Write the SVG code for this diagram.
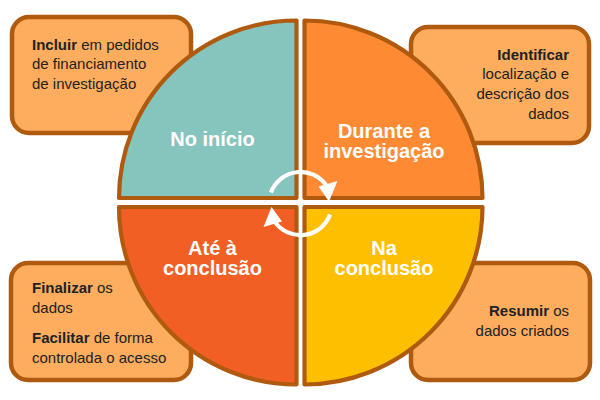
<svg xmlns="http://www.w3.org/2000/svg" width="600" height="400" viewBox="0 0 600 400">
<defs>
<style>
.box{fill:#FEAD5F;stroke:#B05A10;stroke-width:4.5}
.q{stroke:#B05A10;stroke-width:4.2;stroke-linejoin:round}
.t{font-family:"Liberation Sans",Arial,sans-serif;font-size:15px;fill:#222}
.b{font-weight:bold}
.lbl{font-family:"Liberation Sans",Arial,sans-serif;font-size:20px;font-weight:bold;fill:#fff;text-anchor:middle}
.arc{fill:none;stroke:#fff;stroke-width:4.2}
.head{fill:#fff}
</style>
</defs>
<rect width="600" height="400" fill="#fff"/>
<g id="box-tl">
<rect class="box" x="12" y="17" width="179" height="116" rx="17"/>
<text class="t" x="32" y="49.5"><tspan class="b">Incluir</tspan> em pedidos</text>
<text class="t" x="32" y="69">de financiamento</text>
<text class="t" x="32" y="88.5">de investigação</text>
</g>
<g id="box-tr">
<rect class="box" x="411" y="27" width="178" height="116" rx="17"/>
<text class="t b" x="569" y="59.5" text-anchor="end">Identificar</text>
<text class="t" x="569" y="79" text-anchor="end">localização e</text>
<text class="t" x="569" y="99" text-anchor="end">descrição dos</text>
<text class="t" x="569" y="118.5" text-anchor="end">dados</text>
</g>
<g id="box-bl">
<rect class="box" x="11" y="263" width="180" height="117" rx="17"/>
<text class="t" x="32" y="292.7"><tspan class="b">Finalizar</tspan> os</text>
<text class="t" x="32" y="312.7">dados</text>
<text class="t" x="32" y="342.7"><tspan class="b">Facilitar</tspan> de forma</text>
<text class="t" x="32" y="362.7">controlada o acesso</text>
</g>
<g id="box-br">
<rect class="box" x="411" y="263" width="179" height="117" rx="17"/>
<text class="t" x="569" y="316" text-anchor="end"><tspan class="b">Resumir</tspan> os</text>
<text class="t" x="569" y="336" text-anchor="end">dados criados</text>
</g>
<g id="q-tl">
<path class="q" fill="#86C4BE" d="M296.5,198 V20.5 A177.5,177.5 0 0 0 119,198 Z"/>
<text class="lbl" x="212.5" y="145.5">No início</text>
</g>
<g id="q-tr">
<path class="q" fill="#FE8A33" d="M304.5,198 V20.5 A178,178 0 0 1 482.5,198 Z"/>
<text class="lbl" x="384" y="138"><tspan x="384">Durante a</tspan><tspan x="384" dy="20">investigação</tspan></text>
</g>
<g id="q-bl">
<path class="q" fill="#F15F25" d="M296.5,207 H119 A177.5,177.5 0 0 0 296.5,384.5 Z"/>
<text class="lbl" x="212.5" y="254.5"><tspan x="212.5">Até à</tspan><tspan x="212.5" dy="20">conclusão</tspan></text>
</g>
<g id="q-br">
<path class="q" fill="#FEBF00" d="M304.5,207 V384.5 A178,178 0 0 0 482.5,207 Z"/>
<text class="lbl" x="384" y="254.5"><tspan x="384">Na</tspan><tspan x="384" dy="20">conclusão</tspan></text>
</g>
<g id="connectors">
<path class="arc" d="M270.9,192.5 A31.5,31.5 0 0 1 326.3,185.5"/>
<polygon class="head" points="318.5,186.5 337.5,181 329,201.5"/>
<path class="arc" d="M330.1,214.6 A31.5,31.5 0 0 1 274.7,221.6"/>
<polygon class="head" points="282,221.5 263.5,227 271.5,207"/>
</g>
</svg>
